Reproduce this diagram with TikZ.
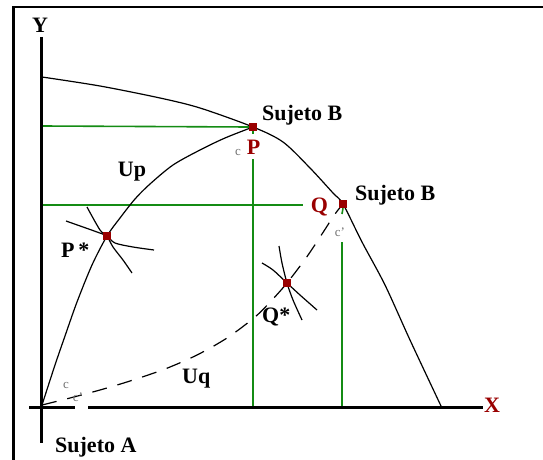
\documentclass[tikz,border=0pt]{standalone}
\usepackage{fontspec}
\setmainfont{Liberation Serif}
\definecolor{dred}{HTML}{990000}
\definecolor{lgreen}{HTML}{148C14}
\definecolor{cgray}{HTML}{707070}
\begin{document}
\begin{tikzpicture}[x=1pt,y=-1pt,
  lbl/.style={font=\fontsize{22}{24}\selectfont\bfseries, inner sep=0pt},
  redlbl/.style={lbl, text=dred},
  smalllbl/.style={font=\fontsize{13}{14}\selectfont, text=cgray, inner sep=0pt},
  sqpt/.style={fill=dred, minimum size=8pt, inner sep=0pt, draw=none},
  curve/.style={line width=1.2pt, black},
  axisline/.style={line width=3pt, black},
  guide/.style={line width=1.6pt, draw=lgreen},
]
\useasboundingbox (0,0) rectangle (543,460);
% frame (cropped)
\draw[line width=2.5pt] (13.5,460) -- (13.5,7) -- (543,7);

% named points
\coordinate (O) at (42,405);
\coordinate (Ytop) at (41.5,37);
\coordinate (Ybot) at (41.5,443);
\coordinate (Xl) at (29,407);
\coordinate (Xg1) at (75,407);
\coordinate (Xg2) at (88,407);
\coordinate (Xr) at (483,407);
\node[sqpt] (P) at (253,127) {};
\node[sqpt] (Q) at (343,204) {};
\node[sqpt] (Ps) at (107,236) {};
\node[sqpt] (Qs) at (287,283) {};
\coordinate (H1) at (42,126);
\coordinate (H2a) at (42,205);
\coordinate (H2b) at (303,205);
\coordinate (V1a) at (253,134);
\coordinate (V1b) at (253,159);
\coordinate (V1c) at (253,407);
\coordinate (V2a) at (342,214);
\coordinate (V2b) at (342,242);
\coordinate (V2c) at (342,407);

% green guides
\draw[guide] (H1) -- (P.west);
\draw[guide] (P.south) -- (V1a);
\draw[guide] (V1b) -- (V1c);
\draw[guide] (H2a) -- (H2b);
\draw[guide] (Q.south) -- (V2a);
\draw[guide] (V2b) -- (V2c);

% axes
\draw[axisline] (Ytop) -- (Ybot);
\draw[axisline] (Xl) -- (Xg1);
\draw[axisline] (Xg2) -- (Xr);

% frontier
\draw[curve] plot[smooth] coordinates {(42,77) (100,86) (160,98) (200,108) (P.center) (283,142) (310,168) (333,193) (Q.center) (362,242) (385,285) (410,340) (441,406)};
% Up
\draw[curve] plot[smooth] coordinates {(O) (55,365) (65,336) (77,302) (92,265) (Ps.center) (120,218) (135,199) (150,184) (173,165) (200,150) (225,138) (P.center)};
% Uq
\draw[curve, dash pattern=on 15pt off 11pt] plot[smooth] coordinates {(O) (70,398) (100,390) (130,381) (165,369) (197,355) (227,338) (255,317) (272,300) (Qs.center) (306,258) (322,234) (335,214) (Q.center)};
% indifference curves at P*
\draw[curve] plot[smooth] coordinates {(87,207) (100,230) (Ps.center) (113,247) (123,260) (132,273)};
\draw[curve] plot[smooth] coordinates {(66,221) (83,227) (97,232) (Ps.center) (115,243) (133,247) (154,250)};
% indifference curves at Q*
\draw[curve] plot[smooth] coordinates {(279,246) (282,263) (Qs.center) (293,300) (302,320)};
\draw[curve] plot[smooth] coordinates {(262,263) (273,270) (Qs.center) (300,295) (317,310)};

% redraw points on top
\node[sqpt] at (P) {};
\node[sqpt] at (Q) {};
\node[sqpt] at (Ps) {};
\node[sqpt] at (Qs) {};

% labels
\node[lbl] (ly) at (40,25) {Y};
\node[redlbl] (lx) at (492,405) {X};
\node[lbl, anchor=base west] (lsb1) at (262,120) {Sujeto B};
\node[lbl, anchor=base west] (lsb2) at (355,200) {Sujeto B};
\node[lbl, anchor=base west] (lsa) at (55,452) {Sujeto A};
\node[redlbl, anchor=base] (lp) at (253.5,154) {P};
\node[redlbl, anchor=base] (lq) at (319.5,212) {Q};
\node[lbl, anchor=base] (lup) at (132,176) {Up};
\node[lbl, anchor=base west] (luq) at (182,383) {Uq};
\node[lbl, anchor=base west] (lps) at (61,257) {P\,*};
\node[lbl, anchor=base west] (lqs) at (262,322) {Q*};
\node[smalllbl] (c1) at (238,152) {c};
\node[smalllbl] (c2) at (340,232) {c'};
\node[smalllbl] (c3) at (66,385) {c};
\node[smalllbl] (c4) at (78,397) {c'};
\end{tikzpicture}
\end{document}
